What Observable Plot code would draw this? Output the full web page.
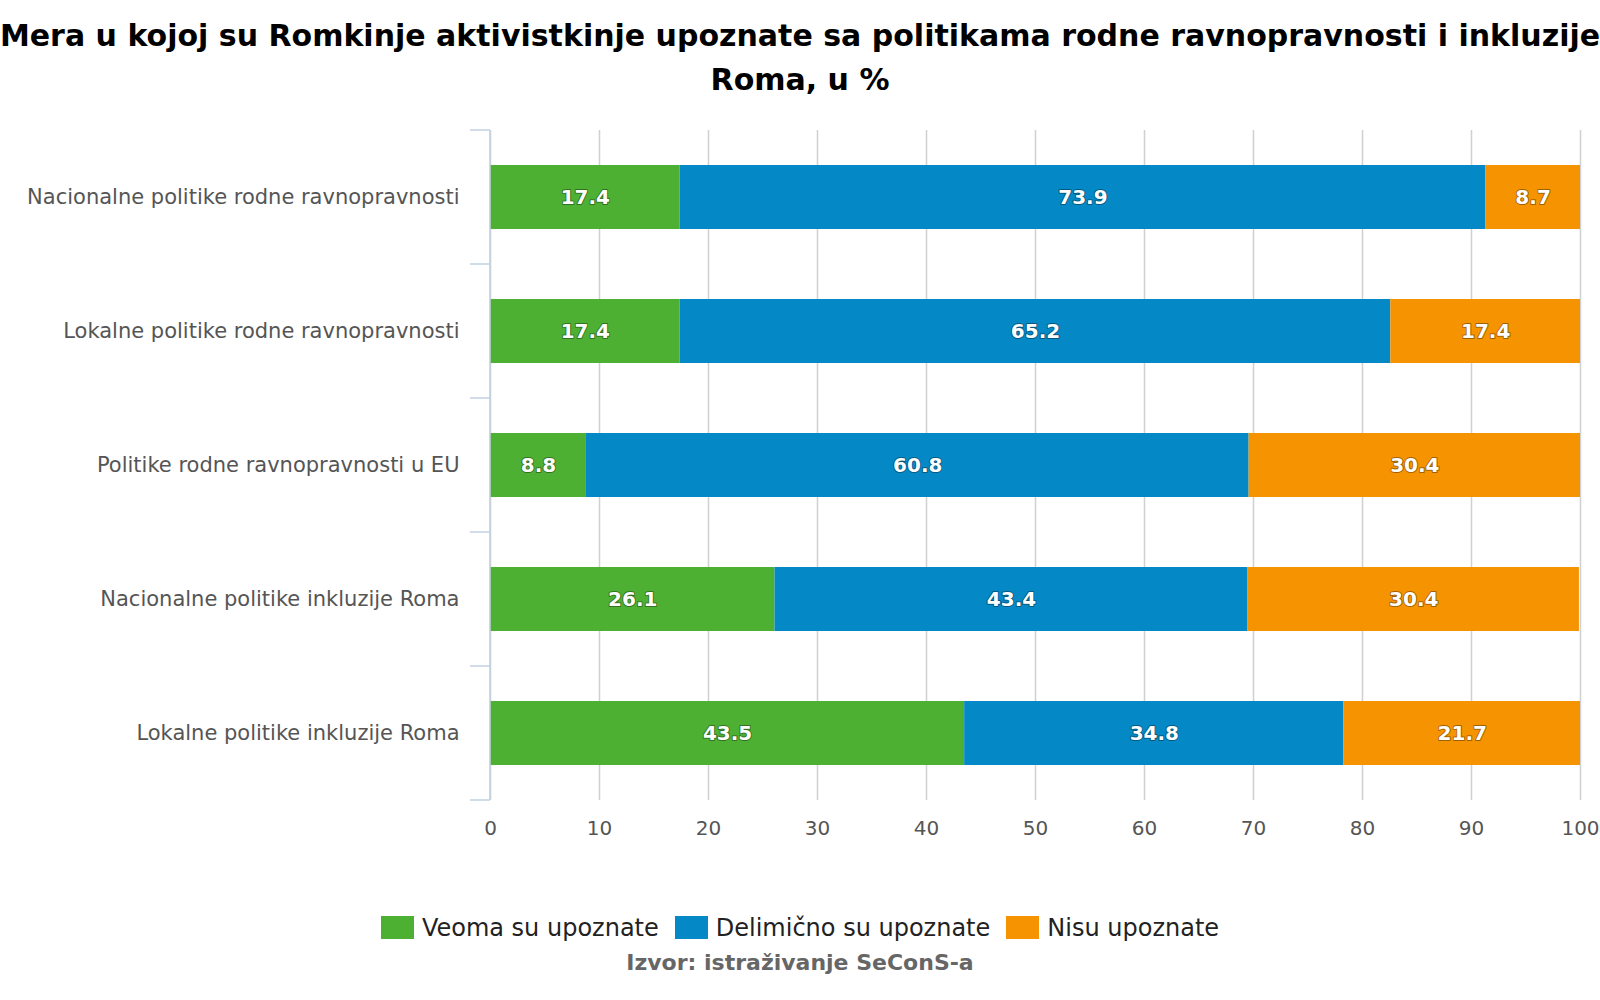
<!DOCTYPE html>
<html><head><meta charset="utf-8">
<script src="https://cdn.jsdelivr.net/npm/d3@7"></script>
<script src="https://cdn.jsdelivr.net/npm/@observablehq/plot@0.6"></script>
<style>
body{margin:0;background:#fff;font-family:"DejaVu Sans",sans-serif;width:1600px;height:1000px;position:relative;overflow:hidden}
#title{position:absolute;top:14px;left:0;width:1600px;height:95px;overflow:hidden;font-weight:bold;font-size:30px;color:#000}
#title div{position:absolute;left:800px;transform:translateX(-50%);white-space:nowrap;line-height:44px}
#chart{position:absolute;top:0;left:0}
#legend{position:absolute;top:914px;left:0;width:1600px;display:flex;justify-content:center;gap:16px;font-size:24px;color:#222}
#legend span.sw{display:inline-block;width:33px;height:23px;margin-right:8px;vertical-align:-3px}
#src{position:absolute;top:950px;left:0;width:1600px;text-align:center;font-weight:bold;font-size:22px;color:#666}
</style></head><body>
<div id="title"><div style="top:0">Mera u kojoj su Romkinje aktivistkinje upoznate sa politikama rodne ravnopravnosti i inkluzije</div><div style="top:44px">Roma, u %</div></div>
<div id="chart"></div>
<div id="legend"></div>
<div id="src">Izvor: istraživanje SeConS-a</div>
<script>
const categories = ["Nacionalne politike rodne ravnopravnosti","Lokalne politike rodne ravnopravnosti","Politike rodne ravnopravnosti u EU","Nacionalne politike inkluzije Roma","Lokalne politike inkluzije Roma"];
const series = ["Veoma su upoznate","Delimično su upoznate","Nisu upoznate"];
const colors = ["#4db033","#0489c6","#f59300"];
const veoma = [17.4,17.4,8.8,26.1,43.5];
const delimicno = [73.9,65.2,60.8,43.4,34.8];
const nisu = [8.7,17.4,30.4,30.4,21.7];
const xTicks = [0,10,20,30,40,50,60,70,80,90,100];

const vals=[veoma,delimicno,nisu];
const data=[];
series.forEach((s,si)=>categories.forEach((c,ci)=>data.push({cat:c,series:s,value:vals[si][ci]})));

const boundaryTicks = (index, scales, values, dims) => {
  const g = d3.create("svg:g");
  const step = scales.y.step();
  const bw = scales.y.bandwidth();
  const off = (step - bw)/2;
  const pts = categories.map(c=>scales.y(c)-off);
  pts.push(scales.y(categories[categories.length-1])+bw+off);
  pts.forEach(y=>g.append("line").attr("x1",dims.marginLeft-20).attr("x2",dims.marginLeft).attr("y1",y).attr("y2",y).attr("stroke","#c0d0e0").attr("stroke-width",1.5));
  g.append("line").attr("x1",dims.marginLeft).attr("x2",dims.marginLeft).attr("y1",dims.marginTop).attr("y2",dims.height-dims.marginBottom).attr("stroke","#c0d0e0").attr("stroke-width",1.5);
  return g.node();
};

const chart = Plot.plot({
  width:1600, height:852, marginLeft:490, marginRight:20, marginTop:130, marginBottom:52,
  style:{fontFamily:"DejaVu Sans",fontSize:"20px",color:"#555"},
  x:{domain:[0,100],ticks:xTicks,label:null},
  y:{domain:categories,paddingInner:0.52,paddingOuter:0.26,align:0.5,label:null},
  color:{domain:series,range:colors},
  marks:[
    Plot.gridX(xTicks,{stroke:"#d0d0d0",strokeOpacity:1,strokeWidth:1.5}),
    Plot.barX(data,{x:"value",y:"cat",fill:"series",order:series}),
    Plot.text(data,Plot.stackX({x:"value",y:"cat",z:"series",order:series,text:d=>d.value.toFixed(1),fill:"white",fontWeight:"bold",fontSize:20,stroke:"rgba(0,0,0,0.35)",strokeWidth:2})),
    Plot.axisX({ticks:xTicks,tickSize:0,tickPadding:20,fontSize:20,fill:"#555",label:null}),
    Plot.axisY({tickSize:0,tickPadding:31,fontSize:21,fill:"#555",label:null}),
    boundaryTicks
  ]
});
document.getElementById("chart").appendChild(chart);
const lg=document.getElementById("legend");
series.forEach((s,i)=>{const d=document.createElement("div");d.innerHTML=`<span class="sw" style="background:${colors[i]}"></span>${s}`;lg.appendChild(d);});
</script>
</body></html>
